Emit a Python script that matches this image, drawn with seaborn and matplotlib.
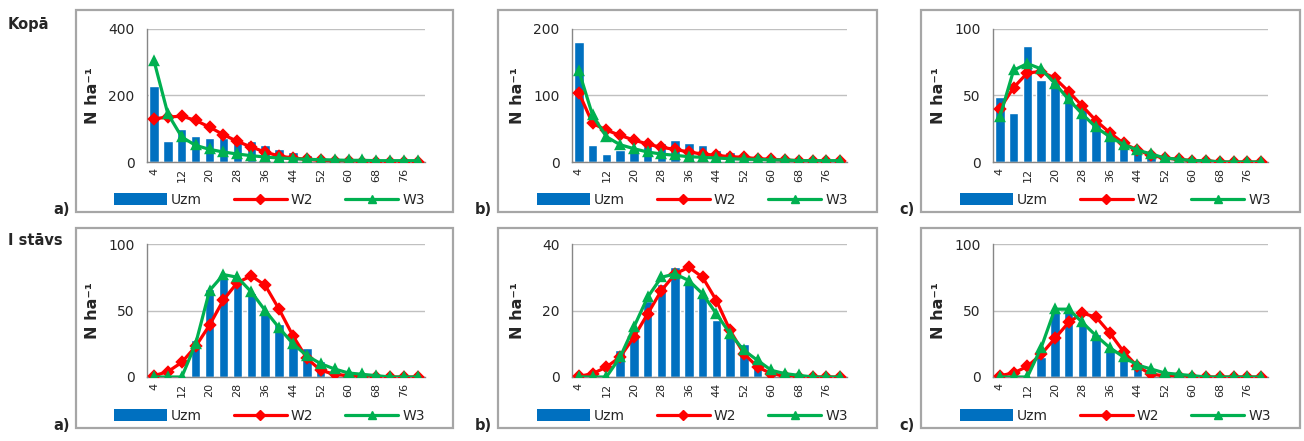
import numpy as np
import pandas as pd
import matplotlib
matplotlib.use("Agg")
import matplotlib.pyplot as plt
from matplotlib.patches import Rectangle, Patch
from matplotlib.lines import Line2D
import seaborn as sns

# diameter classes, cm
classes = [str(c) for c in range(4, 84, 4)]

# top row: Kopā
kopa_a_uzm = [230, 62, 100, 78, 72, 72, 65, 62, 50, 40, 30, 22, 8, 5, 3, 2, 1, 1, 1, 1]
kopa_a_w2 = [130, 135, 138, 125, 105, 82, 62, 45, 30, 18, 12, 8, 5, 3, 2, 1, 1, 0, 0, 0]
kopa_a_w3 = [305, 145, 75, 50, 38, 30, 24, 19, 15, 12, 10, 8, 7, 6, 5, 5, 4, 4, 4, 4]

kopa_b_uzm = [180, 26, 12, 18, 20, 24, 28, 33, 28, 26, 18, 15, 8, 6, 4, 3, 2, 2, 2, 1]
kopa_b_w2 = [104, 58, 48, 40, 33, 27, 22, 19, 15, 12, 10, 8, 7, 5, 4, 3, 2, 2, 1, 1]
kopa_b_w3 = [137, 70, 38, 26, 20, 15, 12, 10, 8, 7, 6, 5, 4, 4, 3, 3, 2, 2, 2, 2]

kopa_c_uzm = [49, 37, 87, 62, 60, 50, 40, 32, 22, 15, 11, 5, 3, 2, 1, 1, 0, 0, 0, 0]
kopa_c_w2 = [40, 56, 67, 68, 63, 53, 42, 31, 22, 14, 9, 5, 3, 2, 1, 1, 0, 0, 0, 0]
kopa_c_w3 = [34, 69, 74, 70, 59, 47, 36, 26, 19, 13, 9, 6, 3, 2, 1, 1, 0, 0, 0, 0]

# bottom row: I stāvs
st1_a_uzm = [0, 0, 0, 28, 66, 75, 72, 63, 48, 40, 27, 22, 12, 3, 1, 1, 0, 0, 0, 0]
st1_a_w2 = [1, 4, 11, 23, 39, 58, 71, 76, 69, 51, 31, 14, 5, 2, 1, 0, 0, 0, 0, 0]
st1_a_w3 = [0, 0, 0, 25, 65, 77, 75, 64, 50, 37, 25, 16, 10, 6, 3, 2, 1, 0, 0, 0]

st1_b_uzm = [0, 0, 0, 8, 13, 23, 28, 33, 28, 25, 17, 12, 10, 4, 1, 0.5, 0, 0, 0, 0]
st1_b_w2 = [0.2, 1, 3, 6, 12, 19, 26, 31, 33, 30, 23, 14, 7, 3, 1, 0.3, 0, 0, 0, 0]
st1_b_w3 = [0, 0, 0, 6, 15, 24, 30, 31, 29, 25, 19, 13, 8, 5, 2, 1, 0.5, 0, 0, 0]

st1_c_uzm = [0, 0, 0, 15, 50, 50, 40, 32, 22, 15, 11, 5, 2, 1, 0, 0, 0, 0, 0, 0]
st1_c_w2 = [1, 3, 8, 17, 29, 41, 48, 45, 33, 19, 8, 2, 1, 0.5, 0, 0, 0, 0, 0, 0]
st1_c_w3 = [0, 0, 0, 22, 51, 51, 41, 31, 22, 15, 9, 6, 3, 2, 1, 0, 0, 0, 0, 0]

y_max = [400, 200, 100, 100, 40, 100]
y_step = [200, 100, 50, 50, 20, 50]
letters = ["a)", "b)", "c)", "a)", "b)", "c)"]

BLUE = "#0070c0"
RED = "#ff0000"
GREEN = "#00b050"

sns.set_style("white")
plt.rcParams["font.family"] = ["DejaVu Sans"]

W, H = 1304, 441
fig = plt.figure(figsize=(W / 100, H / 100), dpi=100)

panels = [
    (kopa_a_uzm, kopa_a_w2, kopa_a_w3),
    (kopa_b_uzm, kopa_b_w2, kopa_b_w3),
    (kopa_c_uzm, kopa_c_w2, kopa_c_w3),
    (st1_a_uzm, st1_a_w2, st1_a_w3),
    (st1_b_uzm, st1_b_w2, st1_b_w3),
    (st1_c_uzm, st1_c_w2, st1_c_w3),
]

# pixel layout (left, right) of plot area and outer box
plot_x = [(147, 425), (572, 847), (993, 1268)]
box_x = [(76, 453), (498, 877), (921, 1300)]
plot_y = [(29, 162), (244, 377)]
box_y = [(10, 212), (228, 428)]

for i, (uzm, w2, w3) in enumerate(panels):
    row, col = divmod(i, 3)
    x0, x1 = plot_x[col]
    yt, yb = plot_y[row]
    bx0, bx1 = box_x[col]
    by0, by1 = box_y[row]

    fig.patches.append(Rectangle((bx0 / W, 1 - by1 / H), (bx1 - bx0) / W, (by1 - by0) / H,
                                 transform=fig.transFigure, fill=False,
                                 edgecolor="#a6a6a6", linewidth=1.6, zorder=0))

    ax = fig.add_axes([x0 / W, 1 - yb / H, (x1 - x0) / W, (yb - yt) / H])
    df = pd.DataFrame({"klase": classes, "Uzm": uzm, "W2": w2, "W3": w3})
    sns.barplot(data=df, x="klase", y="Uzm", color=BLUE, saturation=1, width=0.68,
                ax=ax, zorder=2)
    sns.pointplot(data=df, x="klase", y="W2", color=RED, markers="D", linestyles="-",
                  errorbar=None, markersize=5, linewidth=2.3, ax=ax, zorder=3)
    sns.pointplot(data=df, x="klase", y="W3", color=GREEN, markers="^", linestyles="-",
                  errorbar=None, markersize=6, linewidth=2.3, ax=ax, zorder=4)

    ax.set_xlim(-0.5, len(classes) - 0.5)
    ax.set_ylim(0, y_max[i])
    ax.set_yticks(np.arange(0, y_max[i] + 1, y_step[i]))
    ax.set_xticks(range(0, len(classes), 2))
    ax.set_xticklabels(classes[::2], rotation=90, fontsize=8)
    ax.set_xticks(np.arange(-0.5, len(classes), 1), minor=True)
    ax.tick_params(axis="x", which="major", length=0, pad=4)
    ax.tick_params(axis="x", which="minor", length=3, color="#868686", width=0.8)
    ax.tick_params(axis="y", length=4, color="#868686", width=0.8, labelsize=10, pad=5)
    ax.yaxis.grid(True, color="#c0c0c0", linewidth=1)
    ax.set_axisbelow(True)
    for s in ["top", "right"]:
        ax.spines[s].set_visible(False)
    for s in ["left", "bottom"]:
        ax.spines[s].set_color("#868686")
        ax.spines[s].set_linewidth(1)
    ax.set_xlabel("")
    ax.set_ylabel("N ha⁻¹", fontsize=11.5, fontweight="bold")
    ax.yaxis.set_label_coords(-47 / (x1 - x0), 0.5)

    handles = [Patch(facecolor=BLUE, edgecolor="none"),
               Line2D([], [], color=RED, marker="D", markersize=5, linewidth=2.3),
               Line2D([], [], color=GREEN, marker="^", markersize=6, linewidth=2.3)]
    leg_y = by1 - 12
    fig.legend(handles, ["Uzm", "W2", "W3"], loc="center",
               bbox_to_anchor=(((bx0 + bx1) / 2 + 5) / W, 1 - leg_y / H),
               ncol=3, frameon=False, fontsize=10, handlelength=3.8, handleheight=1.0,
               handletextpad=0.3, columnspacing=2.3, numpoints=1)

    fig.text((bx0 - 6) / W, 1 - (by1 - 2) / H, letters[i], ha="right", va="center",
             fontsize=10.5, fontweight="bold")

fig.text(8 / W, 1 - 24 / H, "Kopā", ha="left", va="center", fontsize=10.5, fontweight="bold")
fig.text(8 / W, 1 - 240 / H, "I stāvs", ha="left", va="center", fontsize=10.5, fontweight="bold")

fig.savefig("out.png", dpi=100)
